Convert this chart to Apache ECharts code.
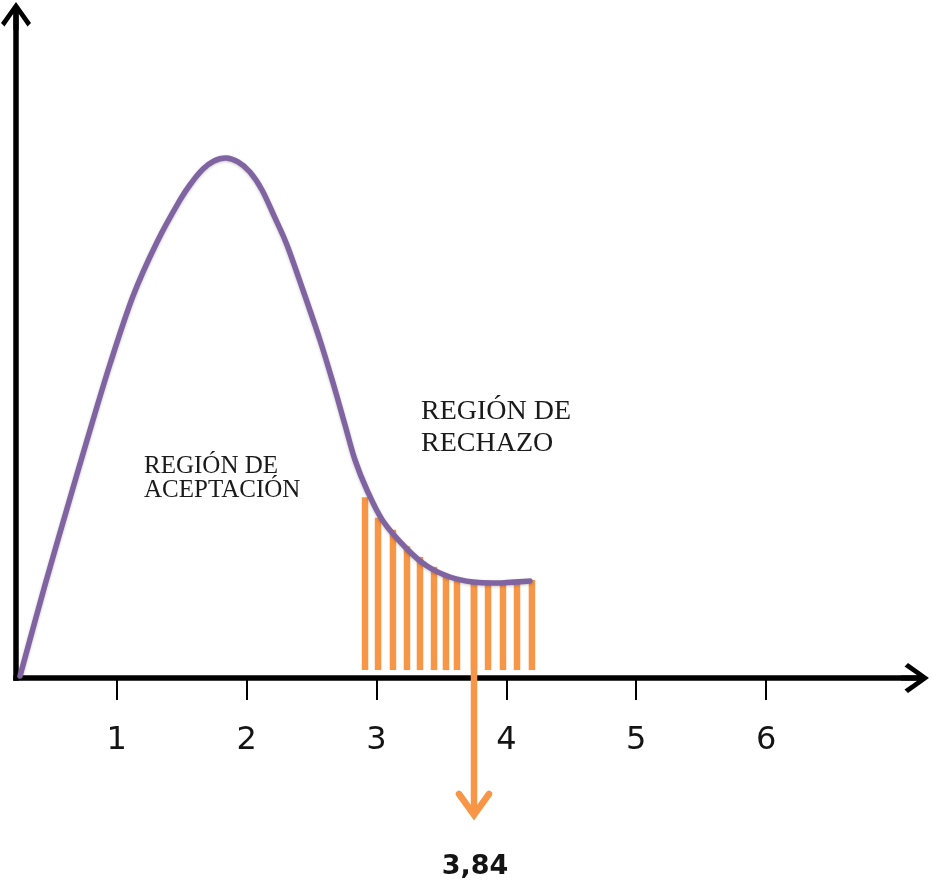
<!DOCTYPE html>
<html>
<head>
<meta charset="utf-8">
<script src="https://cdn.jsdelivr.net/npm/echarts@6/dist/echarts.min.js"></script>
<style>
  html, body { margin: 0; padding: 0; background: #ffffff; }
  #chart { width: 932px; height: 884px; }
</style>
</head>
<body>
<div id="chart"></div>
<script>
// ---- data ----
const tickValues = [1, 2, 3, 4, 5, 6];
const tickLabels = ['1', '2', '3', '4', '5', '6'];

const curveX = [0.256, 0.448, 0.610, 0.779, 0.949, 1.126, 1.311, 1.488, 1.580, 1.665,
                1.749, 1.842, 1.934, 2.026, 2.119, 2.219, 2.311, 2.434, 2.565, 2.666,
                2.758, 2.835, 2.927, 3.050, 3.235, 3.389, 3.566, 3.743, 3.928, 4.182];
const curveY = [0.003, 0.1405, 0.2508, 0.3640, 0.4743, 0.5770, 0.6586, 0.7221, 0.7492, 0.7689,
                0.7810, 0.7855, 0.7795, 0.7644, 0.7372, 0.6949, 0.6541, 0.5861, 0.5106, 0.4456,
                0.3822, 0.3293, 0.2840, 0.2372, 0.1949, 0.1692, 0.1526, 0.1450, 0.1435, 0.1465];

const hatchX   = [2.912, 3.012, 3.127, 3.235, 3.335, 3.443, 3.535, 3.620, 3.751, 3.859, 3.974, 4.082, 4.197];
const hatchTop = [0.273, 0.242, 0.224, 0.199, 0.183, 0.168, 0.154, 0.151, 0.145, 0.1435, 0.1435, 0.1435, 0.148];
const hatchBase = 0.012;

const criticalLabel = '3,84';
const arrowX = 3.751;
const arrowTop = 0.145;
const arrowTip = -0.2115;

const acceptText = 'REGIÓN DE\nACEPTACIÓN';
const rejectText = 'REGIÓN DE\nRECHAZO';

// ---- styles ----
const PURPLE = '#8064A2';
const ORANGE = '#F79646';
const INK = '#000000';
const arrowPath = 'path://M15,0 L30,21 L26.5,24.5 L17.5,11.5 L17.5,28 L12.5,28 L12.5,11.5 L3.5,24.5 L0,21 Z';

const chart = echarts.init(document.getElementById('chart'), null, { renderer: 'canvas' });

// Catmull-Rom spline through the curve's points, mapped through the axes.
function curveRenderItem(params, api) {
  if (params.dataIndex !== 0) return null;
  const pts = curveX.map((x, i) => api.coord([x, curveY[i]]));
  let d = 'M' + pts[0][0] + ',' + pts[0][1];
  for (let i = 0; i < pts.length - 1; i++) {
    const p0 = pts[Math.max(0, i - 1)];
    const p1 = pts[i];
    const p2 = pts[i + 1];
    const p3 = pts[Math.min(pts.length - 1, i + 2)];
    const c1x = p1[0] + (p2[0] - p0[0]) / 6;
    const c1y = p1[1] + (p2[1] - p0[1]) / 6;
    const c2x = p2[0] - (p3[0] - p1[0]) / 6;
    const c2y = p2[1] - (p3[1] - p1[1]) / 6;
    d += ' C' + c1x + ',' + c1y + ' ' + c2x + ',' + c2y + ' ' + p2[0] + ',' + p2[1];
  }
  return {
    type: 'path',
    shape: { pathData: d },
    style: {
      fill: null,
      stroke: PURPLE,
      lineWidth: 5.5,
      lineCap: 'round',
      lineJoin: 'round',
      shadowColor: 'rgba(0,0,0,0.22)',
      shadowBlur: 3,
      shadowOffsetY: 1
    }
  };
}

const option = {
  backgroundColor: '#ffffff',
  animation: false,
  grid: { left: 16, top: 16, width: 899, bottom: 206, containLabel: false },
  xAxis: {
    type: 'value',
    min: 0.225,
    max: 7.146,
    splitLine: { show: false },
    axisLine: {
      show: true,
      symbol: ['none', arrowPath],
      symbolSize: [30, 28],
      lineStyle: { color: INK, width: 5.5, cap: 'square' }
    },
    axisTick: {
      show: true,
      customValues: tickValues,
      length: 22,
      lineStyle: { color: INK, width: 2 }
    },
    axisLabel: {
      show: true,
      customValues: tickValues,
      formatter: (v) => tickLabels[tickValues.indexOf(Math.round(v))] || '',
      margin: 47,
      fontFamily: 'DejaVu Sans',
      fontSize: 32,
      color: '#141414'
    }
  },
  yAxis: {
    type: 'value',
    min: 0,
    max: 1,
    splitLine: { show: false },
    axisTick: { show: false },
    axisLabel: { show: false },
    axisLine: {
      show: true,
      symbol: ['none', arrowPath],
      symbolSize: [30, 28],
      lineStyle: { color: INK, width: 5.5, cap: 'square' }
    }
  },
  series: [
    {
      name: 'hatch',
      type: 'custom',
      clip: false,
      z: 2,
      data: hatchX.map((x, i) => [x, hatchBase, hatchTop[i]]),
      renderItem: function (params, api) {
        const b = api.coord([api.value(0), api.value(1)]);
        const t = api.coord([api.value(0), api.value(2)]);
        return {
          type: 'rect',
          shape: { x: b[0] - 3.25, y: t[1], width: 6.5, height: b[1] - t[1] },
          style: { fill: ORANGE }
        };
      }
    },
    {
      name: 'critical',
      type: 'custom',
      clip: false,
      z: 4,
      data: [[arrowX, arrowTop, arrowTip]],
      renderItem: function (params, api) {
        const top = api.coord([api.value(0), api.value(1)]);
        const tip = api.coord([api.value(0), api.value(2)]);
        const x = top[0];
        return {
          type: 'group',
          children: [
            {
              type: 'line',
              shape: { x1: x, y1: top[1], x2: x, y2: tip[1] - 4 },
              style: { stroke: ORANGE, lineWidth: 6.5 }
            },
            {
              type: 'polyline',
              shape: { points: [[x - 15, tip[1] - 24], [x, tip[1] - 3], [x + 15, tip[1] - 24]] },
              style: { stroke: ORANGE, lineWidth: 6.5, fill: null, lineJoin: 'miter', lineCap: 'round' }
            },
            {
              type: 'text',
              x: x + 1,
              y: tip[1] + 49,
              style: {
                text: criticalLabel,
                fontFamily: 'DejaVu Sans',
                fontWeight: 'bold',
                fontSize: 27,
                fill: '#141414',
                align: 'center',
                verticalAlign: 'middle'
              }
            }
          ]
        };
      }
    },
    {
      name: 'curve',
      type: 'custom',
      clip: false,
      z: 5,
      data: curveX.map((x, i) => [x, curveY[i]]),
      renderItem: curveRenderItem
    }
  ],
  graphic: [
    {
      type: 'text',
      left: 144,
      top: 454,
      style: {
        text: acceptText,
        fontFamily: 'Liberation Serif',
        fontSize: 25,
        lineHeight: 24,
        fill: '#1a1a1a'
      }
    },
    {
      type: 'text',
      left: 421,
      top: 396,
      style: {
        text: rejectText,
        fontFamily: 'Liberation Serif',
        fontSize: 28,
        lineHeight: 32,
        fill: '#1a1a1a'
      }
    }
  ]
};

chart.setOption(option);
</script>
</body>
</html>
